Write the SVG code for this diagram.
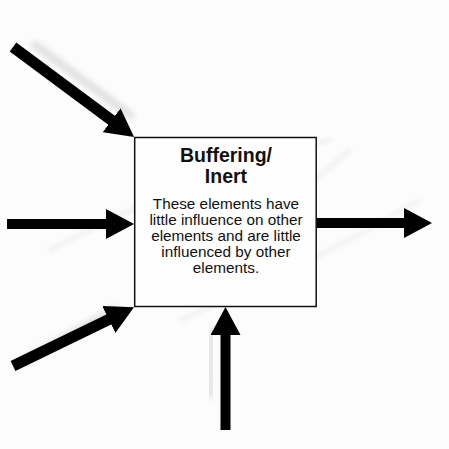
<svg xmlns="http://www.w3.org/2000/svg" width="449" height="449" viewBox="0 0 449 449">
  <defs>
    <marker id="head" markerUnits="userSpaceOnUse" markerWidth="28" markerHeight="30" refX="8" refY="15" orient="auto">
      <path d="M0,0 L28,15 L0,30 Z" fill="#000"/>
    </marker>
    <filter id="blur" x="-20%" y="-20%" width="140%" height="140%">
      <feGaussianBlur stdDeviation="2.5"/>
    </filter>
  </defs>
  <style>
    .arrow { stroke: #000; stroke-width: 10; fill: none; marker-end: url(#head); }
    .shade { stroke: #9a9a9a; fill: none; opacity: 0.25; filter: url(#blur); stroke-linecap: round; }
    .title { font-family: "Liberation Sans", Arial, sans-serif; font-weight: bold; font-size: 19.5px; text-anchor: middle; fill: #111; }
    .body { font-family: "Liberation Sans", Arial, sans-serif; font-size: 15.3px; text-anchor: middle; fill: #111; }
  </style>
  <rect width="449" height="449" fill="#fcfcfc"/>
  <g id="shading">
    <path class="shade" d="M35,45 L130,115" stroke-width="9"/>
    <path class="shade" d="M25,360 L115,310" stroke-width="9"/>
    <path class="shade" d="M210,395 L212,330" stroke-width="7"/>
    <path class="shade" d="M50,250 Q180,180 330,140" stroke-width="2"/>
    <path class="shade" d="M150,300 Q260,230 350,150" stroke-width="2"/>
    <path class="shade" d="M180,320 Q300,270 420,200" stroke-width="2"/>
  </g>
  <g id="connectors">
    <line class="arrow" x1="13" y1="47" x2="118" y2="125" style="stroke-width:11"/>
    <line class="arrow" x1="7" y1="224" x2="114" y2="224"/>
    <line class="arrow" x1="13" y1="366" x2="116" y2="316" style="stroke-width:11"/>
    <line class="arrow" x1="225.5" y1="430" x2="225.5" y2="327"/>
    <line class="arrow" x1="316" y1="223" x2="412" y2="223"/>
  </g>
  <g id="node-buffering">
    <rect x="134.7" y="137.5" width="181.5" height="169" fill="#fefefe" fill-opacity="0.9" stroke="#111" stroke-width="1.5"/>
    <text class="title" x="226" y="161.5">Buffering/</text>
    <text class="title" x="226" y="183">Inert</text>
    <text class="body" x="226" y="209">These elements have</text>
    <text class="body" x="226" y="225">little influence on other</text>
    <text class="body" x="226" y="241">elements and are little</text>
    <text class="body" x="226" y="257">influenced by other</text>
    <text class="body" x="226" y="273">elements.</text>
  </g>
</svg>
